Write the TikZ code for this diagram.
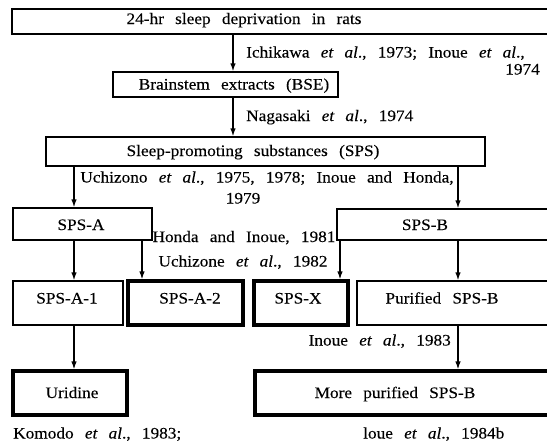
\documentclass[tikz,border=0pt]{standalone}
\usepackage{fontspec}
\setmainfont{Liberation Serif}[FakeStretch=1.08,WordSpace=2.6,FakeBold=0.15]
\usetikzlibrary{arrows.meta}
\begin{document}
\begin{tikzpicture}[x=1pt,y=-1pt,
  box/.style={draw=black,line width=1.3pt,inner sep=0pt},
  thickbox/.style={draw=black,line width=3.2pt,inner sep=0pt},
  txt/.style={inner sep=0pt,anchor=base,font=\fontsize{16}{19}\selectfont},
  arr/.style={line width=1.3pt,-{Latex[length=8pt,width=5.5pt]}}]
\fill[white] (0,0) rectangle (547,442);
\useasboundingbox (0,0) rectangle (547,442);
\clip (0,0) rectangle (547,442);
% boxes
\node[box,minimum width=548pt,minimum height=25pt] (b1) at (286,21.5) {};
\node[box,minimum width=225pt,minimum height=25pt] (b2) at (225.5,84.5) {};
\node[box,minimum width=439pt,minimum height=29pt] (b3) at (265.5,151.5) {};
\node[box,minimum width=139pt,minimum height=32pt] (bA) at (82.5,224) {};
\node[box,minimum width=223pt,minimum height=31pt] (bB) at (448.5,224.5) {};
\node[box,minimum width=110pt,minimum height=44pt] (bA1) at (68,303) {};
\node[thickbox,minimum width=115pt,minimum height=44pt] (bA2) at (185.5,303) {};
\node[thickbox,minimum width=94pt,minimum height=44pt] (bX) at (301,303) {};
\node[box,minimum width=203pt,minimum height=44pt] (bPB) at (458.5,303) {};
\node[thickbox,minimum width=114pt,minimum height=44pt] (bU) at (70,393) {};
\node[thickbox,minimum width=305pt,minimum height=44pt] (bM) at (407.5,393) {};
% box texts
\node[txt] (t1) at (244,24) {24-hr sleep deprivation in rats};
\node[txt] (t2) at (234,89.5) {Brainstem extracts (BSE)};
\node[txt] (t3) at (253,156) {Sleep-promoting substances (SPS)};
\node[txt] (tA) at (81,230) {SPS-A};
\node[txt] (tB) at (425,230) {SPS-B};
\node[txt] (tA1) at (67,303.5) {SPS-A-1};
\node[txt] (tA2) at (190,303.5) {SPS-A-2};
\node[txt] (tX) at (298,303.5) {SPS-X};
\node[txt] (tPB) at (442,303.5) {Purified SPS-B};
\node[txt] (tU) at (72,398) {Uridine};
\node[txt] (tM) at (395,398) {More purified SPS-B};
% citation labels
\node[txt,anchor=base west] (l1) at (246,57.5) {Ichikawa \textit{et al}., 1973; Inoue \textit{et al}.,};
\node[txt,anchor=base east] (l1b) at (540,74.5) {1974};
\node[txt,anchor=base west] (l2) at (246,121) {Nagasaki \textit{et al}., 1974};
\node[txt] (l3) at (267,182.5) {Uchizono \textit{et al}., 1975, 1978; Inoue and Honda,};
\node[txt] (l3b) at (243,203.5) {1979};
\node[txt] (l4) at (244,242) {Honda and Inoue, 1981};
\node[txt] (l4b) at (243,266.5) {Uchizone \textit{et al}., 1982};
\node[txt,anchor=base east] (l5) at (451,345.5) {Inoue \textit{et al}., 1983};
\node[txt,anchor=base west] (l6) at (13,438.5) {Komodo \textit{et al}., 1983;};
\node[txt,anchor=base west] (l7) at (363,438.5) {loue \textit{et al}., 1984b};
% connector x positions
\coordinate (x1) at (233,0);
\coordinate (xa) at (74,0);
\coordinate (xb) at (142,0);
\coordinate (xc) at (340,0);
\coordinate (xd) at (458,0);
% connectors
\draw[arr] (b1.south -| x1) -- (b2.north -| x1);
\draw[arr] (b2.south -| x1) -- (b3.north -| x1);
\draw[arr] (b3.south -| xa) -- (bA.north -| xa);
\draw[arr] (b3.south -| xd) -- (bB.north -| xd);
\draw[arr] (bA.south -| xa) -- (bA1.north -| xa);
\draw[arr] (bA.south -| xb) -- (bA2.north -| xb);
\draw[arr] (bB.south -| xc) -- (bX.north -| xc);
\draw[arr] (bB.south -| xd) -- (bPB.north -| xd);
\draw[arr] (bA1.south -| xa) -- (bU.north -| xa);
\draw[arr] (bPB.south -| xd) -- (bM.north -| xd);
\end{tikzpicture}
\end{document}
